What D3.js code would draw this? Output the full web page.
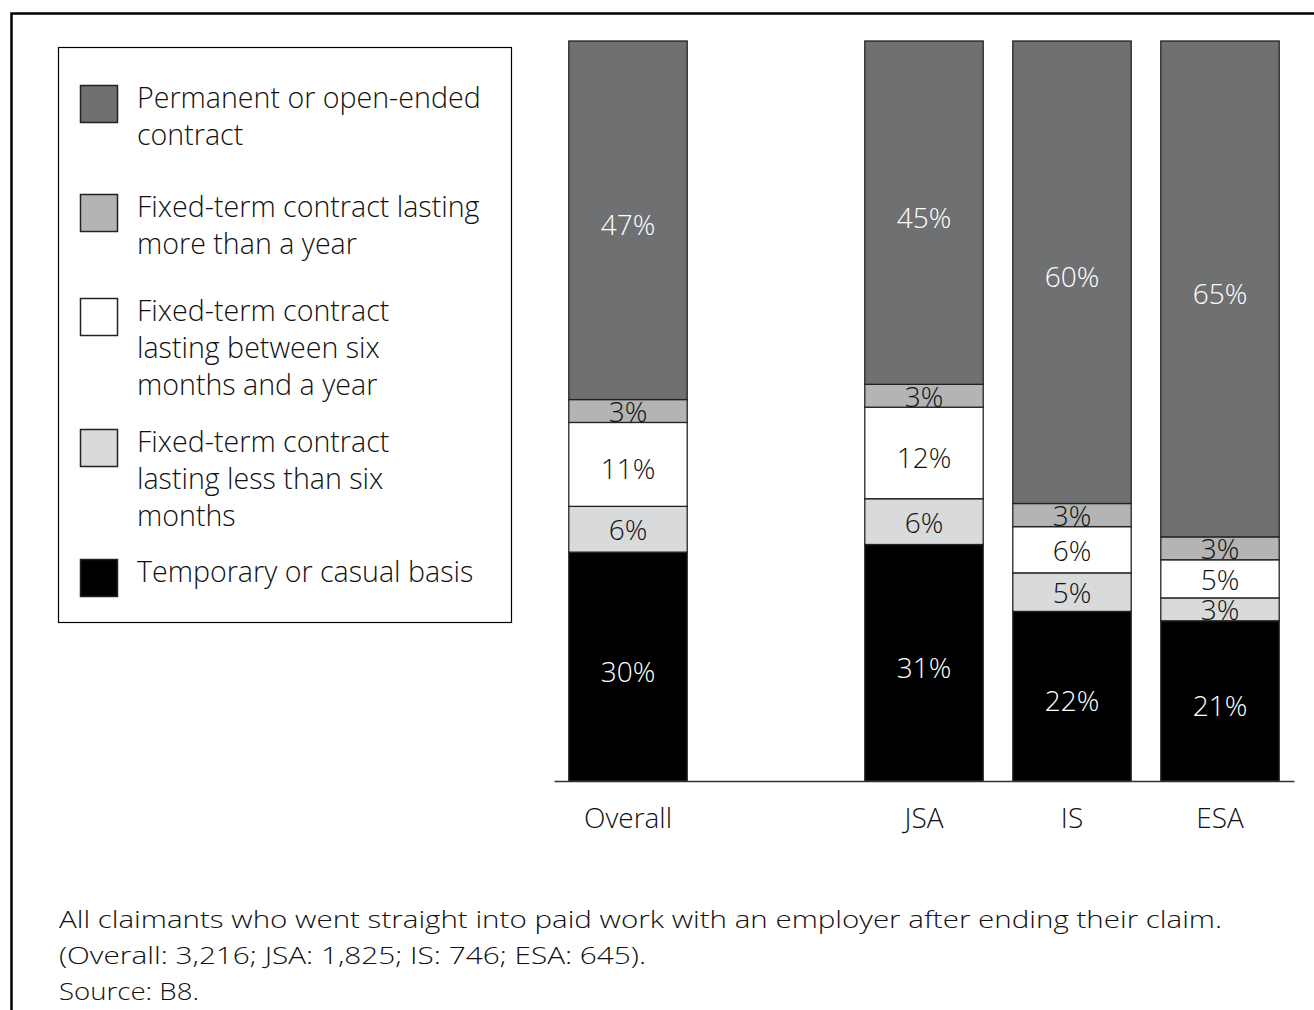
<!DOCTYPE html>
<html>
<head>
<meta charset="utf-8">
<script src="https://cdn.jsdelivr.net/npm/d3@7"></script>
<style>
  html, body { margin: 0; padding: 0; background: #fff; }
  svg { display: block; font-family: "Open Sans", "DejaVu Sans", sans-serif; font-weight: 300; }
</style>
</head>
<body>
<svg id="chart" width="1314" height="1010"></svg>
<script>
// Groups along the x axis; the blank slot separates the overall bar from the benefit bars
const categories = ["Overall", "", "JSA", "IS", "ESA"];
const groups = ["Overall", "JSA", "IS", "ESA"];

// Share of claimants by contract type (%), per group
const permanent    = [47, 45, 60, 65];
const moreThanYear = [3, 3, 3, 3];
const sixToTwelve  = [11, 12, 6, 5];
const lessThanSix  = [6, 6, 5, 3];
const temporary    = [30, 31, 22, 21];

// Series, listed from the bottom of each bar upwards
const seriesKeys = ["temporary", "lessThanSix", "sixToTwelve", "moreThanYear", "permanent"];
const seriesValues = [temporary, lessThanSix, sixToTwelve, moreThanYear, permanent];
const seriesColors = ["#000000", "#d9dadb", "#ffffff", "#b3b4b6", "#6f7072"];
const labelColors  = ["#ffffff", "#111111", "#111111", "#111111", "#ffffff"];

// Legend entries, top to bottom
const legendKeys = ["permanent", "moreThanYear", "sixToTwelve", "lessThanSix", "temporary"];
const legendLines = [
  ["Permanent or open-ended", "contract"],
  ["Fixed-term contract lasting", "more than a year"],
  ["Fixed-term contract", "lasting between six", "months and a year"],
  ["Fixed-term contract", "lasting less than six", "months"],
  ["Temporary or casual basis"]
];

const footerLines = [
  "All claimants who went straight into paid work with an employer after ending their claim.",
  "(Overall: 3,216; JSA: 1,825; IS: 746; ESA: 645).",
  "Source: B8."
];

const svg = d3.select("#chart");

// Outer frame (open at the bottom)
svg.append("path")
  .attr("d", "M11.5,1010 V13.5 H1314")
  .attr("fill", "none")
  .attr("stroke", "#000")
  .attr("stroke-width", 2.5);

// Table of rows for the stack
const rows = groups.map((g, i) => {
  const r = { group: g };
  seriesKeys.forEach((k, s) => { r[k] = seriesValues[s][i]; });
  return r;
});

const stacked = d3.stack()
  .keys(seriesKeys)
  .offset(d3.stackOffsetExpand)(rows);

const x = d3.scaleBand()
  .domain(categories)
  .range([554, 1294])
  .paddingInner(0.2)
  .paddingOuter(0.1);

const y = d3.scaleLinear().domain([0, 1]).range([781, 41]);

const colorOf = d3.scaleOrdinal().domain(seriesKeys).range(seriesColors);
const labelColorOf = d3.scaleOrdinal().domain(seriesKeys).range(labelColors);

const layers = svg.append("g").selectAll("g")
  .data(stacked)
  .join("g")
  .attr("fill", d => colorOf(d.key));

layers.selectAll("rect")
  .data(d => d)
  .join("rect")
  .attr("x", d => x(d.data.group))
  .attr("y", d => y(d[1]))
  .attr("width", x.bandwidth())
  .attr("height", d => y(d[0]) - y(d[1]))
  .attr("stroke", "#222")
  .attr("stroke-width", 1.3);

// Value labels centred in each segment
const labels = svg.append("g")
  .attr("font-size", 28)
  .attr("text-anchor", "middle");

stacked.forEach(layer => {
  labels.selectAll(null)
    .data(layer)
    .join("text")
    .attr("x", d => x(d.data.group) + x.bandwidth() / 2)
    .attr("y", d => {
      const h = y(d[0]) - y(d[1]);
      return (y(d[0]) + y(d[1])) / 2 + (h > 60 ? 4 : 0);
    })
    .attr("dominant-baseline", "central")
    .attr("fill", labelColorOf(layer.key))
    .text(d => d.data[layer.key] + "%");
});

// Category axis
const xAxis = svg.append("g")
  .attr("transform", "translate(0,781)")
  .call(d3.axisBottom(x).tickSize(0).tickSizeOuter(0).tickPadding(27));
xAxis.select(".domain").attr("stroke", "#333").attr("stroke-width", 1.5);
xAxis.selectAll("text")
  .attr("font-size", 28)
  .attr("font-family", "\"Open Sans\", sans-serif")
  .attr("font-weight", 300)
  .attr("fill", "#111");

// Legend
const legend = svg.append("g");
legend.append("rect")
  .attr("x", 58.5).attr("y", 47.5)
  .attr("width", 453).attr("height", 575)
  .attr("fill", "#fff")
  .attr("stroke", "#000")
  .attr("stroke-width", 1.2);

const legendTops = [85, 194, 298, 429, 559];
const lineGap = 37;
legendKeys.forEach((k, i) => {
  const top = legendTops[i];
  legend.append("rect")
    .attr("x", 80.5).attr("y", top + 0.5)
    .attr("width", 37).attr("height", 37)
    .attr("fill", colorOf(k))
    .attr("stroke", "#222")
    .attr("stroke-width", 1.5);
  legendLines[i].forEach((line, j) => {
    legend.append("text")
      .attr("x", 137)
      .attr("y", top + 23 + j * lineGap)
      .attr("font-size", 28.6)
      .attr("fill", "#111")
      .text(line);
  });
});

// Footnote
const footerWidths = [1163, 587, 140];
footerLines.forEach((line, i) => {
  svg.append("text")
    .attr("x", 59)
    .attr("y", 928 + i * 36)
    .attr("font-size", 24)
    .attr("fill", "#111")
    .attr("textLength", footerWidths[i])
    .attr("lengthAdjust", "spacingAndGlyphs")
    .text(line);
});
</script>
</body>
</html>
